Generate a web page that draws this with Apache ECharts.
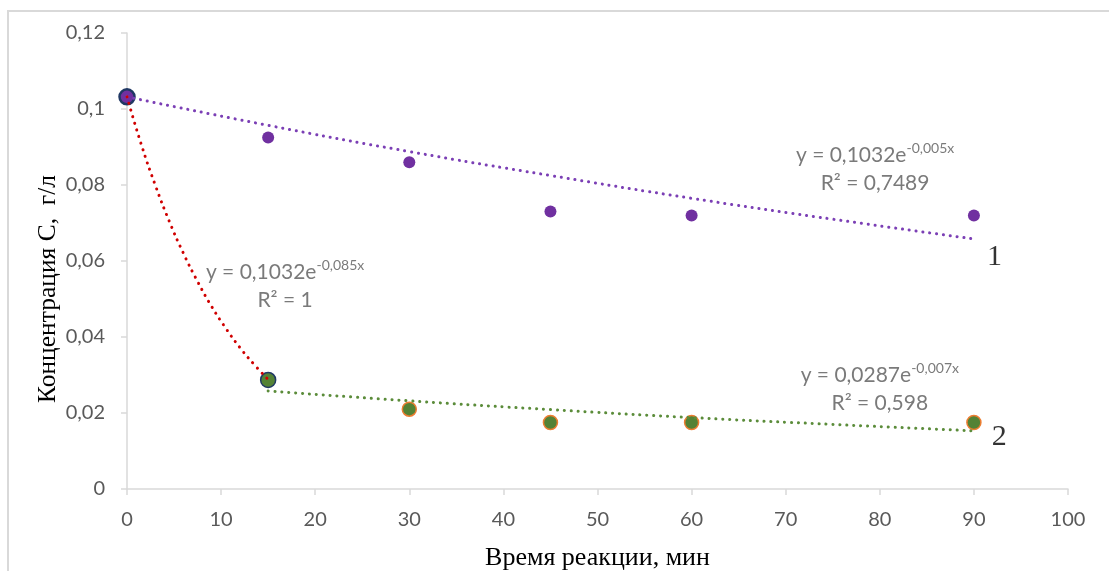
<!DOCTYPE html>
<html>
<head>
<meta charset="utf-8">
<script src="https://cdn.jsdelivr.net/npm/echarts@6/dist/echarts.min.js"></script>
<style>html,body{margin:0;padding:0;background:#fff;}#c{width:1109px;height:571px;}</style>
</head>
<body>
<div id="c"></div>
<script>
// Measured points
var time1 = [0, 15, 30, 45, 60, 90];
var conc1 = [0.1032, 0.0925, 0.086, 0.073, 0.072, 0.072];
var time2 = [15, 30, 45, 60, 90];
var conc2 = [0.0287, 0.021, 0.0175, 0.0175, 0.0175];

// Trend lines
var trendPurpleX = [0, 15, 30, 45, 60, 75, 90];
var trendPurpleY = [0.1032, 0.0957, 0.0888, 0.0825, 0.0765, 0.0710, 0.0658];
var trendRedX = [0, 1.5, 3, 4.5, 6, 7.5, 9, 10.5, 12, 13.5, 15];
var trendRedY = [0.1032, 0.0908, 0.0800, 0.0704, 0.0620, 0.0546, 0.0480, 0.0423, 0.0372, 0.0328, 0.0288];
var trendGreenX = [15, 30, 45, 60, 75, 90];
var trendGreenY = [0.0258, 0.0232, 0.0209, 0.0188, 0.0170, 0.0153];

var xTicks = [0, 10, 20, 30, 40, 50, 60, 70, 80, 90, 100];
var yTicks = [0, 0.02, 0.04, 0.06, 0.08, 0.1, 0.12];

var eq1 = ['y = 0,1032e', '-0,005x', 'R² = 0,7489'];
var eq2 = ['y = 0,1032e', '-0,085x', 'R² = 1'];
var eq3 = ['y = 0,0287e', '-0,007x', 'R² = 0,598'];
var curveLabels = ['1', '2'];

function zip(xs, ys) { return xs.map(function (x, i) { return [x, ys[i]]; }); }

var NAVY = '#203864', PURPLE = '#7030A0', GREEN = '#548235', ORANGE = '#ED7D31', RED = '#D00000';
var eqFont = 'Lato, "Noto Sans", sans-serif';
var serif = '"Liberation Serif", "Times New Roman", serif';

var rich = {
  b: { fontSize: 21, color: '#595959', fontFamily: eqFont, lineHeight: 28 },
  s: { fontSize: 14, color: '#595959', fontFamily: eqFont, lineHeight: 14, verticalAlign: 'top' }
};
function eqText(e) { return '{b|' + e[0] + '}{s|' + e[1] + '}\n{b|' + e[2] + '}'; }

var dotted = function (c) {
  return { color: c, width: 3, type: [0.1, 6.8], cap: 'round' };
};

var pts1 = zip(time1, conc1).map(function (p, i) {
  return i === 0 ? { value: p, symbolSize: 15, itemStyle: { color: PURPLE, borderColor: NAVY, borderWidth: 2.5 } } : { value: p };
});
var pts2 = zip(time2, conc2).map(function (p, i) {
  return i === 0 ? { value: p, symbolSize: 15, itemStyle: { color: GREEN, borderColor: NAVY, borderWidth: 1.5 } } : { value: p };
});

var annotations = [
  { coord: [79.5, 0.0842], text: eqText(eq1) },
  { coord: [16.8, 0.0534], text: eqText(eq2) },
  { coord: [80.0, 0.0263], text: eqText(eq3) }
];
var numLabels = [
  { coord: [92.2, 0.0611], text: curveLabels[0] },
  { coord: [92.7, 0.0137], text: curveLabels[1] }
];

var chart = echarts.init(document.getElementById('c'), null, { renderer: 'canvas' });
chart.setOption({
  animation: false,
  backgroundColor: '#fff',
  graphic: [{
    type: 'rect', z: -10, silent: true,
    shape: { x: 8, y: 11, width: 1130, height: 590 },
    style: { fill: 'none', stroke: '#d9d9d9', lineWidth: 2 }
  }],
  grid: { left: 127, right: 41, top: 33, bottom: 82, containLabel: false, outerBoundsMode: 'none' },
  xAxis: {
    type: 'value', min: 0, max: 100, interval: 10,
    name: 'Время реакции, мин', nameLocation: 'middle', nameGap: 56, nameMoveOverlap: false,
    nameTextStyle: { fontFamily: serif, fontSize: 26, color: '#000' },
    axisLine: { show: true, lineStyle: { color: '#d9d9d9', width: 1.5 } },
    axisTick: { show: true, length: 6, lineStyle: { color: '#d9d9d9', width: 1.5 } },
    splitLine: { show: false },
    axisLabel: { color: '#595959', fontSize: 20, fontFamily: eqFont, margin: 21,
      customValues: xTicks, formatter: function (v) { return String(v); } }
  },
  yAxis: {
    type: 'value', min: 0, max: 0.12, interval: 0.02,
    name: 'Концентрация С,  г/л', nameLocation: 'middle', nameGap: 66, nameMoveOverlap: false,
    nameTextStyle: { fontFamily: serif, fontSize: 25.5, color: '#000', padding: [0, 56, 0, 0] },
    axisLine: { show: true, lineStyle: { color: '#d9d9d9', width: 1.5 } },
    axisTick: { show: true, length: 6, lineStyle: { color: '#d9d9d9', width: 1.5 } },
    splitLine: { show: false },
    axisLabel: { color: '#595959', fontSize: 20, fontFamily: eqFont, margin: 22,
      customValues: yTicks,
      formatter: function (v) { return String(+(+v).toFixed(2)).replace('.', ','); } }
  },
  series: [
    { type: 'scatter', name: 'series1', data: pts1, symbolSize: 12, itemStyle: { color: PURPLE, opacity: 1 }, z: 3 },
    { type: 'scatter', name: 'series2', data: pts2, symbolSize: 14,
      itemStyle: { color: GREEN, borderColor: ORANGE, borderWidth: 1.5, opacity: 1 }, z: 3 },
    { type: 'line', name: 'trendPurple', data: zip(trendPurpleX, trendPurpleY), smooth: true, symbol: 'none',
      lineStyle: dotted('#7B3FB5'), z: 5 },
    { type: 'line', name: 'trendRed', data: zip(trendRedX, trendRedY), smooth: true, symbol: 'none',
      lineStyle: dotted(RED), z: 5 },
    { type: 'line', name: 'trendGreen', data: zip(trendGreenX, trendGreenY), smooth: true, symbol: 'none',
      lineStyle: dotted('#5B8C3A'), z: 5 },
    { type: 'scatter', name: 'annotations', symbolSize: 0, z: 6, silent: true,
      data: annotations.map(function (a) { return { value: a.coord, label: { formatter: a.text } }; }),
      label: { show: true, position: 'inside', align: 'center', verticalAlign: 'middle', rich: rich, lineHeight: 28 } },
    { type: 'scatter', name: 'numbers', symbolSize: 0, z: 6, silent: true,
      data: numLabels.map(function (a) { return { value: a.coord, label: { formatter: a.text } }; }),
      label: { show: true, position: 'inside', color: '#000', fontSize: 30, fontFamily: serif } }
  ]
});
</script>
</body>
</html>
